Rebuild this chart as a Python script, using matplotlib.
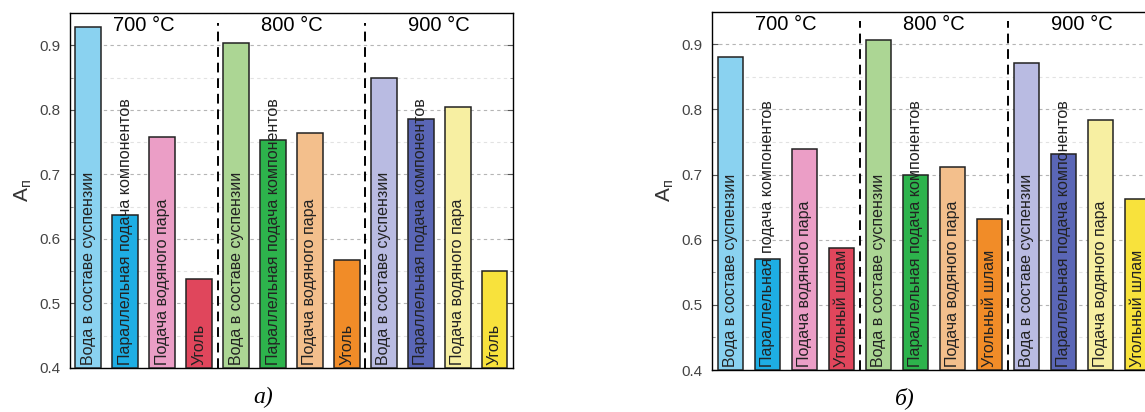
import matplotlib
matplotlib.use("Agg")
import matplotlib.pyplot as plt
from matplotlib.ticker import MultipleLocator

plt.rcParams["font.family"] = ["Liberation Sans", "DejaVu Sans"]

# data
temps = ["700 °C", "800 °C", "900 °C"]
labels_a = ["Вода в составе суспензии", "Параллельная подача компонентов",
            "Подача водяного пара", "Уголь"] * 3
labels_b = ["Вода в составе суспензии", "Параллельная подача компонентов",
            "Подача водяного пара", "Угольный шлам"] * 3
values_a = [0.928, 0.637, 0.758, 0.538,
            0.904, 0.753, 0.764, 0.567,
            0.850, 0.785, 0.805, 0.551]
values_b = [0.880, 0.570, 0.740, 0.587,
            0.906, 0.700, 0.711, 0.632,
            0.871, 0.731, 0.784, 0.663]
colors = ["#8ad2f0", "#1eaee4", "#eb9ec6", "#e0465c",
          "#acd694", "#2db34c", "#f3bf8c", "#f18c28",
          "#b9bbe2", "#5a66b6", "#f7efa2", "#f8e23c"]

YMIN, YMAX = 0.4, 0.95


def draw_panel(ax, values, labels):
    x = range(len(values))
    ax.bar(x, [v - YMIN for v in values], bottom=YMIN, width=0.7,
           color=colors, edgecolor="#222222", linewidth=1.1, zorder=3)
    for i, lab in zip(x, labels):
        ax.text(i, YMIN + 0.004, lab, rotation=90, ha="center", va="bottom",
                fontsize=11.5, color="#222222", zorder=4)
    # group separators and temperature titles
    for sep in (3.5, 7.5):
        ax.plot([sep, sep], [YMIN, 0.935], ls=(0, (5, 3)), color="black",
                lw=1.4, zorder=2)
    for k, t in enumerate(temps):
        ax.text(4 * k + 1.5, 0.931, t, ha="center", va="center",
                fontsize=14.5, color="black")

    ax.set_xlim(-0.5, len(values) - 0.5)
    ax.set_ylim(YMIN, YMAX)
    ax.yaxis.set_minor_locator(MultipleLocator(0.05))
    ax.set_yticks([0.4, 0.5, 0.6, 0.7, 0.8, 0.9])
    ax.set_yticklabels(["0.4", "0.5", "0.6", "0.7", "0.8", "0.9"])
    ax.set_xticks([])
    ax.tick_params(axis="y", which="both", direction="in", left=True,
                   right=True, labelsize=11, labelcolor="#444444", pad=7)
    ax.tick_params(axis="y", which="major", length=4, color="#555555")
    ax.tick_params(axis="y", which="minor", length=2.5, color="#888888")
    ax.grid(axis="y", which="major", ls=(0, (3, 3)), color="#b5b5b5",
            lw=0.8, zorder=0)
    ax.grid(axis="y", which="minor", ls=(0, (3, 3)), color="#e2e2e2",
            lw=0.8, zorder=0)
    for sp in ax.spines.values():
        sp.set_color("black")
        sp.set_linewidth(1.0)
    ax.set_ylabel(r"A$_{\mathregular{п}}$", fontsize=15, color="#333333",
                  labelpad=4)


fig = plt.figure(figsize=(11.45, 4.12), dpi=100)
ax_a = fig.add_axes([0.0611, 0.1068, 0.3869, 0.8617])
ax_b = fig.add_axes([0.6218, 0.1019, 0.3878, 0.8697])

draw_panel(ax_a, values_a, labels_a)
draw_panel(ax_b, values_b, labels_b)

# panel captions
for xc, cap in ((263 / 1145, "а)"), (905 / 1145, "б)")):
    fig.text(xc, 0.035, cap, ha="center", va="center", fontsize=17,
             fontstyle="italic", family="Liberation Serif")

fig.savefig("out.png", dpi=100)
